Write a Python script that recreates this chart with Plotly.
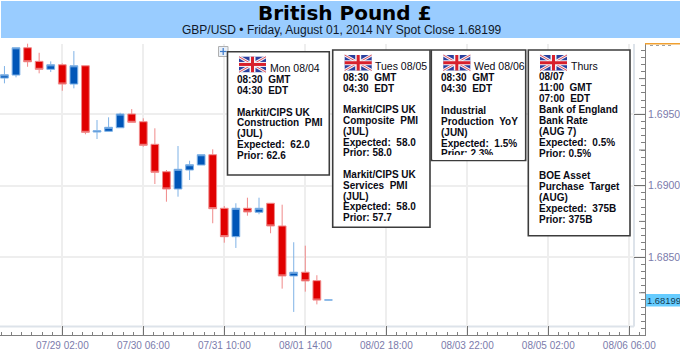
import plotly.graph_objects as go
import pandas as pd

W, H = 680, 354
# 4-hour candles, GBP/USD
start = "2014-07-28 06:00"
opens = [1.69754, 1.69775, 1.69966, 1.69871, 1.69815, 1.69847, 1.69712, 1.69840, 1.69376, 1.69381,
         1.69406, 1.69502, 1.69448, 1.69290, 1.69098, 1.68977, 1.69110, 1.69145, 1.69217, 1.68842,
         1.68643, 1.68842, 1.68814, 1.68877, 1.68718, 1.68368, 1.68394, 1.68335, 1.68199]
highs = [1.69838, 1.69966, 1.69997, 1.69931, 1.69871, 1.69857, 1.69943, 1.69840, 1.69460, 1.69479,
         1.69511, 1.69537, 1.69472, 1.69402, 1.69110, 1.69278, 1.69175, 1.69217, 1.69255, 1.68858,
         1.68877, 1.68916, 1.68916, 1.68879, 1.68867, 1.68604, 1.68580, 1.68373, 1.68199]
lows = [1.69717, 1.69759, 1.69833, 1.69787, 1.69796, 1.69665, 1.69682, 1.69360, 1.69327, 1.69381,
        1.69406, 1.69444, 1.69273, 1.69012, 1.68888, 1.68923, 1.69040, 1.69145, 1.68737, 1.68601,
        1.68564, 1.68790, 1.68800, 1.68667, 1.68279, 1.68116, 1.68258, 1.68169, 1.68199]
closes = [1.69777, 1.69966, 1.69868, 1.69815, 1.69847, 1.69712, 1.69840, 1.69374, 1.69385, 1.69409,
          1.69502, 1.69444, 1.69283, 1.69094, 1.68977, 1.69115, 1.69147, 1.69217, 1.68839, 1.68643,
          1.68842, 1.68816, 1.68842, 1.68718, 1.68368, 1.68394, 1.68333, 1.68199, 1.68200]
times = pd.date_range(start, periods=len(opens), freq="4h")

price_ticks = [1.6850, 1.6900, 1.6950]
price_labels = ["1.6850", "1.6900", "1.6950"]
half_ticks = [1.6825, 1.6875, 1.6925, 1.6975]
last_close = "1.68199"

title_text = "British Pound £"
subtitle_text = "GBP/USD • Friday, August 01, 2014 NY Spot Close 1.68199"

box1_lines = ["08:30  GMT", "04:30  EDT", "", "Markit/CIPS UK", "Construction  PMI", "(JUL)", "Expected:  62.0", "Prior: 62.6"]
box2_lines = ["08:30  GMT", "04:30  EDT", "", "Markit/CIPS UK", "Composite  PMI", "(JUL)", "Expected:  58.0", "Prior: 58.0", "",
              "Markit/CIPS UK", "Services  PMI", "(JUL)", "Expected:  58.0", "Prior: 57.7"]
box3_lines = ["08:30  GMT", "04:30  EDT", "", "Industrial", "Production  YoY", "(JUN)", "Expected:  1.5%", "Prior: 2.3%"]
box4_lines = ["08/07", "11:00  GMT", "07:00  EDT", "Bank of England", "Bank Rate", "(AUG 7)", "Expected:  0.5%", "Prior: 0.5%", "",
              "BOE Asset", "Purchase  Target", "(AUG)", "Expected:  375B", "Prior: 375B"]

FONT = "Liberation Sans"
AXC = "#7b7bab"


def px(x):
    return x / W


def py(y):
    return 1 - y / H


shapes = []
annos = []


def rect(x0, y0, x1, y1, fill=None, line=None, lw=0, layer="above"):
    shapes.append(dict(type="rect", xref="paper", yref="paper", x0=px(x0), x1=px(x1), y0=py(y0), y1=py(y1),
                       fillcolor=fill or "rgba(0,0,0,0)", line=dict(color=line or "rgba(0,0,0,0)", width=lw), layer=layer))


def seg(x0, y0, x1, y1, color, lw, layer="above", dash="solid"):
    shapes.append(dict(type="line", xref="paper", yref="paper", x0=px(x0), x1=px(x1), y0=py(y0), y1=py(y1),
                       line=dict(color=color, width=lw, dash=dash), layer=layer))


def label(x, y, s, size=10, bold=True, color="#0a0a14", anchor="left", font=FONT):
    annos.append(dict(xref="paper", yref="paper", x=px(x), y=py(y), text=f"<b>{s}</b>" if bold else s,
                      xanchor=anchor, yanchor="middle", showarrow=False, borderpad=0,
                      font=dict(family=font, size=size, color=color)))


def flag(x0, y0):
    w, h = 27, 15.5
    rect(x0, y0, x0 + w, y0 + h, fill="#2a3f9e")
    seg(x0, y0, x0 + w, y0 + h, "#f4f4f8", 3)
    seg(x0, y0 + h, x0 + w, y0, "#f4f4f8", 3)
    seg(x0, y0, x0 + w, y0 + h, "#e05060", 1)
    seg(x0, y0 + h, x0 + w, y0, "#e05060", 1)
    seg(x0 + w / 2, y0, x0 + w / 2, y0 + h, "#f4f4f8", 6)
    seg(x0, y0 + h / 2, x0 + w, y0 + h / 2, "#f4f4f8", 5)
    seg(x0 + w / 2, y0, x0 + w / 2, y0 + h, "#d8202c", 3)
    seg(x0, y0 + h / 2, x0 + w, y0 + h / 2, "#d8202c", 3)


# header band
rect(1, 1, W, 38, fill="#99ccff", layer="below")
label(345, 13, title_text, size=20, font="DejaVu Sans", color="#000000", anchor="center")
label(342, 30, subtitle_text, size=12, bold=False, color="#101828", anchor="center")

# inner chart frame
seg(0, 326.5, 634, 326.5, "#dde3ea", 2, layer="below")
seg(634, 44, 634, 326.5, "#dde3ea", 2, layer="below")

# right-hand price readout
rect(646, 294, 680, 306.5, fill="#66ccff")
label(646, 300.3, last_close, size=9.4, bold=False, color="#123a52")

# clipped orange marker at the top of the price scale
seg(645, 43.8, 680, 43.8, "#f0a030", 1.5)
seg(650, 45.5, 672, 45.5, "#a0a0a0", 1, dash="dot")

# intermediate price-scale ticks
for v in half_ticks:
    shapes.append(dict(type="line", xref="paper", yref="y", x0=px(639), x1=px(645), y0=v, y1=v,
                       line=dict(color="#808080", width=1)))

# move handle
rect(218.5, 46.5, 228, 56.5, fill="#e8eff8", line="#b0b0b0", lw=1)
seg(223.2, 48, 223.2, 55, "#3a78c8", 1.2)
seg(220, 51.5, 226.5, 51.5, "#3a78c8", 1.2)

# event boxes
box_line = "#3c3c3c"
rect(227.5, 51.7, 329.3, 175, fill="white", line=box_line, lw=1.6)
rect(332.7, 50, 430, 227.3, fill="white", line=box_line, lw=1.6)
rect(431.3, 50, 525.7, 160.5, fill="white", line=box_line, lw=1.6)
rect(528.3, 50, 630, 235.7, fill="white", line=box_line, lw=1.6)

flag(239, 56.7)
flag(344.7, 55)
flag(443.3, 55)
flag(540, 55)

label(268.5, 67.7, "Mon 08/04", size=10.5, bold=False)
label(373.8, 65.7, "Tues 08/05", size=10.5, bold=False)
label(472.5, 65.7, "Wed 08/06", size=10.5, bold=False)
label(569.5, 65.7, "Thurs", size=10.5, bold=False)

row = 10.95
for i, s in enumerate(box1_lines):
    if s:
        label(236, 79.2 + i * row, s)
for i, s in enumerate(box2_lines):
    if s:
        label(341.5, 77.3 + i * 10.8, s)
for i, s in enumerate(box3_lines):
    if s:
        label(440.2, 77.3 + i * row, s)
for i, s in enumerate(box4_lines):
    if s:
        label(537.5, 76.7 + i * 10.95 + (0.3 if i else 0), s)

# mask that clips the last line of the third box
annos.append(dict(xref="paper", yref="paper", x=px(433), y=py(155.2), text=" ", xanchor="left", yanchor="top",
                  showarrow=False, width=91, height=4.5, bgcolor="white", borderpad=0, borderwidth=0,
                  font=dict(size=1)))

fig = go.Figure(go.Candlestick(
    x=times, open=opens, high=highs, low=lows, close=closes,
    increasing=dict(fillcolor="#0056b8", line=dict(color="#7fb2e6", width=1)),
    decreasing=dict(fillcolor="#e00000", line=dict(color="#f08a8a", width=1)),
    whiskerwidth=0, hoverinfo="skip",
))

fig.update_layout(
    width=W, height=H, margin=dict(l=0, r=0, t=0, b=0), autosize=False,
    paper_bgcolor="white", plot_bgcolor="white", showlegend=False, boxgap=0.33, boxgroupgap=0,
    shapes=shapes, annotations=annos,
    xaxis=dict(
        automargin=False,
        domain=[0, 645 / W], type="date", range=["2014-07-28 04:28", "2014-08-06 11:26"],
        rangeslider=dict(visible=False), tick0="2014-07-29 02:00", dtick=100800000,
        tickformat="%m/%d %H:%M", ticks="inside", ticklen=9, tickcolor="#707070", tickwidth=1,
        showline=True, linecolor="#808080", linewidth=1,
        showgrid=True, gridcolor="#eeeeee", gridwidth=1.5, zeroline=False,
        minor=dict(dtick=12600000, tick0="2014-07-29 02:00", ticks="inside", ticklen=3,
                   tickcolor="#808080", tickwidth=1, showgrid=False),
        tickfont=dict(family=FONT, size=10, color=AXC), ticklabelstandoff=1,
    ),
    yaxis=dict(
        automargin=False,
        domain=[1 - 335 / H, 1 - 43.5 / H], range=[1.679544, 1.69996], side="right",
        tickmode="array", tickvals=price_ticks, ticktext=price_labels,
        ticks="inside", ticklen=11, tickcolor="#707070", tickwidth=1,
        showline=True, linecolor="#808080", linewidth=1,
        showgrid=True, gridcolor="#eeeeee", gridwidth=1.5, zeroline=False,
        minor=dict(dtick=0.0005, tick0=1.68, ticks="inside", ticklen=4, tickcolor="#808080", tickwidth=1, showgrid=False),
        tickfont=dict(family=FONT, size=10.5, color=AXC),
    ),
)

fig.write_html("out.html", config={"displayModeBar": False},
               post_script="document.body.style.margin='0';document.documentElement.style.overflow='hidden';")
